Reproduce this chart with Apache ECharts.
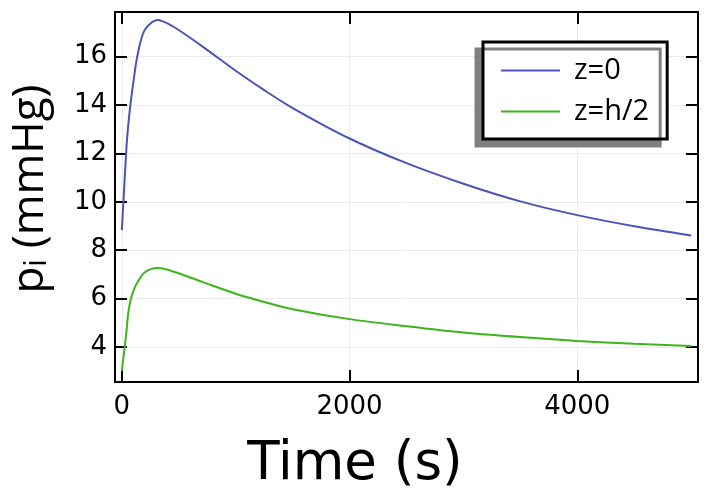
<!DOCTYPE html>
<html>
<head>
<meta charset="utf-8">
<script src="https://cdn.jsdelivr.net/npm/echarts@6/dist/echarts.min.js"></script>
<style>
  html, body { margin: 0; padding: 0; background: #fff; }
  #chart { width: 711px; height: 495px; }
</style>
</head>
<body>
<div id="chart"></div>
<script>
  // time (s) and pressures (mmHg)
  const timeS = [0, 15, 40, 55, 75, 100, 135, 200, 315, 450, 700, 1000, 1250, 1500, 2000, 2500, 3000, 3500, 4000, 4500, 5000];
  const pZ0 = [8.83, 10.1, 12.2, 13.1, 14.0, 14.9, 16.0, 17.1, 17.52, 17.25, 16.45, 15.42, 14.62, 13.88, 12.62, 11.6, 10.75, 10.02, 9.45, 8.99, 8.61];
  const pZh2 = [3.0, 3.6, 4.6, 5.35, 5.9, 6.3, 6.65, 7.08, 7.26, 7.12, 6.7, 6.2, 5.86, 5.56, 5.15, 4.86, 4.6, 4.41, 4.25, 4.13, 4.04];
  const seriesNames = ['z=0', 'z=h/2'];
  const xLimits = [-60, 5060];
  const yLimits = [2.55, 17.85];

  const pairs = (xs, ys) => xs.map((x, i) => [x, ys[i]]);

  const titleFont = '"Open Sans", sans-serif';
  const tickFont = '"DejaVu Sans", sans-serif';
  const frame = { show: true, onZero: false, lineStyle: { color: '#000', width: 2 } };
  const ticks = { show: true, inside: true, length: 12, lineStyle: { color: '#000', width: 2 } };

  let mychart = echarts.init(document.getElementById('chart'));
  let option = {
    backgroundColor: '#fff',
    animation: false,
    grid: { left: 115, top: 12, right: 13, bottom: 113 },
    xAxis: [{
      type: 'value', min: xLimits[0], max: xLimits[1], splitNumber: 3,
      axisLine: frame, axisTick: ticks,
      axisLabel: { showMinLabel: false, showMaxLabel: false, margin: 12, color: '#000', fontSize: 26, fontFamily: tickFont,
        formatter: v => String(v) },
      splitLine: { show: true, lineStyle: { color: '#ebebeb', width: 1 } }
    }, {
      type: 'value', position: 'top', min: xLimits[0], max: xLimits[1], splitNumber: 3,
      axisLine: frame, axisTick: ticks, axisLabel: { show: false }, splitLine: { show: false }
    }],
    yAxis: [{
      type: 'value', min: yLimits[0], max: yLimits[1], splitNumber: 7,
      axisLine: frame, axisTick: ticks,
      axisLabel: { showMinLabel: false, showMaxLabel: false, margin: 8, color: '#000', fontSize: 26, fontFamily: tickFont,
        formatter: v => String(v) },
      splitLine: { show: true, lineStyle: { color: '#ebebeb', width: 1 } }
    }, {
      type: 'value', position: 'right', min: yLimits[0], max: yLimits[1], splitNumber: 7,
      axisLine: frame, axisTick: ticks, axisLabel: { show: false }, splitLine: { show: false }
    }],
    legend: {
      data: seriesNames,
      orient: 'vertical',
      left: 483, top: 42,
      padding: [14, 18, 13, 17],
      itemWidth: 59, itemHeight: 29, itemGap: 12,
      itemStyle: { opacity: 0 },
      backgroundColor: '#fff',
      borderColor: '#000', borderWidth: 3,
      shadowColor: '#808080', shadowBlur: 0, shadowOffsetX: -7, shadowOffsetY: 7,
      textStyle: { color: '#000', fontSize: 29, fontFamily: titleFont, padding: [0, 0, 0, 9] }
    },
    graphic: [{
      type: 'text', x: 355, y: 465,
      style: { text: 'Time (s)', fontSize: 53, fontFamily: tickFont, fill: '#000', align: 'center', verticalAlign: 'middle' }
    }, {
      type: 'text', x: 30, y: 189, rotation: Math.PI / 2,
      style: { text: 'p\u1d62 (mmHg)', fontSize: 44, fontFamily: titleFont, fill: '#000', align: 'center', verticalAlign: 'middle' }
    }],
    series: [{
      name: seriesNames[0], type: 'line', data: pairs(timeS, pZ0),
      symbol: 'none', smooth: 0.3,
      lineStyle: { color: '#4a54b8', width: 2 }, itemStyle: { color: '#4a54b8' }
    }, {
      name: seriesNames[1], type: 'line', data: pairs(timeS, pZh2),
      symbol: 'none', smooth: 0.3,
      lineStyle: { color: '#3cb51c', width: 2 }, itemStyle: { color: '#3cb51c' }
    }]
  };
  mychart.setOption(option);
</script>
</body>
</html>
